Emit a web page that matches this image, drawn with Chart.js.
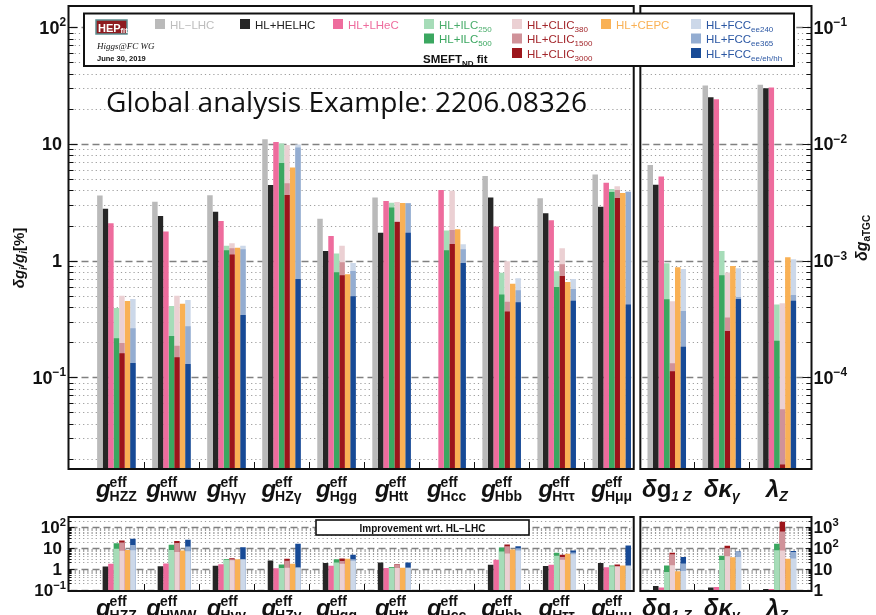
<!DOCTYPE html>
<html>
<head>
<meta charset="utf-8">
<script src="https://cdn.jsdelivr.net/npm/chart.js@4.4.1/dist/chart.umd.min.js"></script>
<style>
  html, body { margin: 0; padding: 0; background: #fff; }
  #wrap { position: relative; width: 876px; height: 615px; overflow: hidden; background: #fff; }
  #wrap canvas { position: absolute; left: 0; top: 0; }
</style>
</head>
<body>
<div id="wrap">
  <canvas id="main" width="876" height="615"></canvas>
  <canvas id="ratio" width="876" height="615"></canvas>
</div>
<script>
// ---------------------------------------------------------------------------
// Categories: Higgs effective couplings (δg/g in %) and anomalous TGCs (absolute)
// ---------------------------------------------------------------------------
const HIGGS_SUBS = ['HZZ', 'HWW', 'Hγγ', 'HZγ', 'Hgg', 'Htt', 'Hcc', 'Hbb', 'Hττ', 'Hμμ'];
const TGC_MAIN = ['δg', 'δκ', 'λ'];
const TGC_SUBS = ['1 Z', 'γ', 'Z'];

// Each series: 10 Higgs couplings [%] followed by 3 aTGC values (δg1Z, δκγ, λZ)
const HL_LHC    = [3.61, 3.20, 3.63, 10.96, 2.29, 3.47, null, 5.32, 3.42, 5.46, 0.0066,   0.0316,   0.0321];
const HL_HELHC  = [2.79, 2.41, 2.63, 4.45,  1.21, 1.73, null, 3.47, 2.55, 2.90, 0.00446,  0.0251,   0.0300];
const HL_LHEC   = [2.09, 1.78, 2.19, 10.4,  1.63, 3.25, 4.03, 1.96, 2.22, 4.66, 0.00525,  0.0241,   0.0304];
const HL_ILC250 = [0.393, 0.409, 1.34, 10.1, 1.15, 3.14, 1.81, 0.789, 0.811, 4.11, 0.000949, 0.00121, 0.000422];
const HL_ILC500 = [0.216, 0.226, 1.23, 6.87, 0.794, 2.85, 1.23, 0.514, 0.594, 3.88, 0.000466, 0.000749, 0.000206];
const HL_CLIC380  = [0.501, 0.501, 1.41, 9.8, 1.34, 3.18, 3.98, 0.99, 1.28, 4.34, 0.000448, 0.00079, 0.000431];
const HL_CLIC1500 = [0.197, 0.187, 1.28, 4.6, 0.97, 2.16, 1.83, 0.445, 0.93, 4.03, 0.000132, 0.000325, 0.0000532];
const HL_CLIC3000 = [0.161, 0.149, 1.13, 3.65, 0.748, 2.14, 1.39, 0.366, 0.739, 3.44, 0.000113, 0.000249, 0.0000179];
const HL_CEPC   = [0.451, 0.428, 1.29, 6.27, 0.763, 3.12, 1.86, 0.635, 0.656, 3.80, 0.000877, 0.0009, 0.00107];
const HL_FCC240 = [0.469, 0.460, 1.34, 9.9, 0.955, 3.12, 1.38, 0.706, 0.697, 3.93, 0.000849, 0.00086, 0.00103];
const HL_FCC365 = [0.263, 0.274, 1.25, 9.3, 0.815, 3.10, 1.25, 0.557, 0.572, 3.88, 0.00037, 0.000489, 0.000508];
const HL_FCCALL = [0.133, 0.130, 0.342, 0.697, 0.495, 1.73, 0.955, 0.44, 0.454, 0.422, 0.000183, 0.000469, 0.000454];

// Axis tick labels: [base, exponent]
const MAIN_LEFT_TICKS  = [100, 10, 1, 0.1];
const MAIN_LEFT_TEXT   = [['10', '2'], ['10', ''], ['1', ''], ['10', '−1']];
const MAIN_RIGHT_TICKS = [0.1, 0.01, 0.001, 0.0001];
const MAIN_RIGHT_TEXT  = [['10', '−1'], ['10', '−2'], ['10', '−3'], ['10', '−4']];
const RATIO_LEFT_TICKS  = [100, 10, 1, 0.1];
const RATIO_LEFT_TEXT   = [['10', '2'], ['10', ''], ['1', ''], ['10', '−1']];
const RATIO_RIGHT_TICKS = [1000, 100, 10, 1];
const RATIO_RIGHT_TEXT  = [['10', '3'], ['10', '2'], ['10', ''], ['1', '']];

// ---------------------------------------------------------------------------
// Series styling
// ---------------------------------------------------------------------------
const SERIES = [
  { name: 'HL−LHC',  sub: '',         data: HL_LHC,      color: '#bababa', text: '#bdbdbd', slot: 'a', col: 0, row: 0 },
  { name: 'HL+HELHC', sub: '',        data: HL_HELHC,    color: '#262626', text: '#222222', slot: 'b', col: 1, row: 0 },
  { name: 'HL+LHeC', sub: '',         data: HL_LHEC,     color: '#ee6c9d', text: '#ee6c9d', slot: 'c', col: 2, row: 0 },
  { name: 'HL+ILC',  sub: '250',      data: HL_ILC250,   color: '#a6dcb8', text: '#4aad6b', slot: 'd', col: 3, row: 0 },
  { name: 'HL+ILC',  sub: '500',      data: HL_ILC500,   color: '#3ba760', text: '#3ba760', slot: 'd', col: 3, row: 1 },
  { name: 'HL+CLIC', sub: '380',      data: HL_CLIC380,  color: '#ebd0d3', text: '#a3262b', slot: 'e', col: 4, row: 0 },
  { name: 'HL+CLIC', sub: '1500',     data: HL_CLIC1500, color: '#d09299', text: '#a3262b', slot: 'e', col: 4, row: 1 },
  { name: 'HL+CLIC', sub: '3000',     data: HL_CLIC3000, color: '#9c151b', text: '#a3262b', slot: 'e', col: 4, row: 2 },
  { name: 'HL+CEPC', sub: '',         data: HL_CEPC,     color: '#f9b155', text: '#f9b155', slot: 'f', col: 5, row: 0 },
  { name: 'HL+FCC',  sub: 'ee240',    data: HL_FCC240,   color: '#ccd8e9', text: '#2b57a3', slot: 'g', col: 6, row: 0 },
  { name: 'HL+FCC',  sub: 'ee365',    data: HL_FCC365,   color: '#94add1', text: '#2b57a3', slot: 'g', col: 6, row: 1 },
  { name: 'HL+FCC',  sub: 'ee/eh/hh', data: HL_FCCALL,   color: '#174a96', text: '#2b57a3', slot: 'g', col: 6, row: 2 }
];
// draw order inside each slot: the first listed ends up on top
const MAIN_ORDER  = [0, 1, 2, 4, 3, 7, 6, 5, 8, 11, 10, 9];
const RATIO_ORDER = [0, 1, 2, 3, 4, 5, 6, 7, 8, 9, 10, 11];

// ---------------------------------------------------------------------------
// Layout constants
// ---------------------------------------------------------------------------
const N_HIGGS = HIGGS_SUBS.length;
const X_MIN = -0.87, X_MAX = 12.63;
const PANEL_SPLIT = [9.40, 9.52];
const GROUP_EDGES = [-0.5, 0.5, 1.5, 2.5, 3.5, 4.5, 5.5, 6.5, 7.5, 8.5, 10.5, 11.5];
const EDGE_MARKS = [0.5, 1.5, 2.5, 3.5, 4.5, 5.5, 6.5, 7.5, 8.5, 10.5, 11.5];
const MAIN_Y = [0.0164, 152];
const RATIO_Y = [0.085, 304];
const SANS = '"Liberation Sans", Arial, Helvetica, sans-serif';
const fnt = (style, size, fam) => `${style} ${size}px ${fam || SANS}`;

Chart.defaults.devicePixelRatio = 1;

// ---------------------------------------------------------------------------
// Dataset builders
// ---------------------------------------------------------------------------
function points(values, from, to, ref) {
  const out = [];
  for (let i = from; i < to; i++) {
    const v = values[i];
    if (v == null) continue;
    if (ref) {
      if (ref[i] == null) continue;
      out.push({ x: i, y: ref[i] / v });
    } else {
      out.push({ x: i, y: v });
    }
  }
  return out;
}

function buildDatasets(order, ratio) {
  const sets = [];
  const panels = [[0, N_HIGGS, 'y'], [N_HIGGS, N_HIGGS + TGC_MAIN.length, 'y2']];
  panels.forEach(([from, to, axis]) => {
    order.forEach(idx => {
      const s = SERIES[idx];
      let data;
      if (ratio) data = idx === 0 ? [] : points(s.data, from, to, HL_LHC);
      else data = points(s.data, from, to, null);
      sets.push({
        label: s.name + s.sub,
        data,
        yAxisID: axis,
        stack: s.slot,
        backgroundColor: s.color,
        borderWidth: 0,
        barPercentage: 1.0,
        categoryPercentage: 0.7
      });
    });
  });
  return sets;
}

// ---------------------------------------------------------------------------
// Drawing helpers
// ---------------------------------------------------------------------------
function runs(ctx, list, x, y, align) {
  let total = 0;
  const widths = list.map(r => { ctx.font = r[1]; const w = ctx.measureText(r[0]).width; total += w; return w; });
  let cx = align === 'right' ? x - total : align === 'center' ? x - total / 2 : x;
  list.forEach((r, i) => {
    ctx.font = r[1];
    if (r[3]) ctx.fillStyle = r[3];
    ctx.fillText(r[0], cx, y + (r[2] || 0));
    cx += widths[i];
  });
  return total;
}

function panelRanges(chart) {
  const a = chart.chartArea, x = chart.scales.x;
  return [[a.left, x.getPixelForValue(PANEL_SPLIT[0])], [x.getPixelForValue(PANEL_SPLIT[1]), a.right]];
}

function logValues(scale) {
  const vals = [];
  const lo = Math.floor(Math.log10(scale.min)), hi = Math.ceil(Math.log10(scale.max));
  for (let d = lo; d <= hi; d++) {
    for (let m = 1; m <= 9; m++) {
      const v = m * Math.pow(10, d);
      if (v > scale.min && v < scale.max) vals.push({ v, major: m === 1 });
    }
  }
  return vals;
}

function drawGrid(chart) {
  const { ctx } = chart;
  const y = chart.scales.y;
  const panels = panelRanges(chart);
  ctx.save();
  logValues(y).forEach(({ v, major }) => {
    const py = Math.round(y.getPixelForValue(v)) + 0.5;
    ctx.beginPath();
    if (major) { ctx.setLineDash([7, 4]); ctx.strokeStyle = '#808080'; ctx.lineWidth = 1.4; }
    else { ctx.setLineDash([1.2, 3]); ctx.strokeStyle = '#9c9c9c'; ctx.lineWidth = 1; }
    panels.forEach(([l, r]) => { ctx.moveTo(l + 2, py); ctx.lineTo(r - 2, py); });
    ctx.stroke();
  });
  ctx.restore();
}

function drawFrames(chart, majorLen, minorLen) {
  const { ctx, chartArea: a } = chart;
  const x = chart.scales.x, y = chart.scales.y;
  const panels = panelRanges(chart);
  ctx.save();
  ctx.setLineDash([]);
  ctx.strokeStyle = '#111';
  ctx.lineWidth = 1;
  // axis tick marks on the outer left and right frames
  ctx.beginPath();
  logValues(y).forEach(({ v, major }) => {
    const py = Math.round(y.getPixelForValue(v)) + 0.5;
    const len = major ? majorLen : minorLen;
    ctx.moveTo(a.left, py); ctx.lineTo(a.left + len, py);
    ctx.moveTo(a.right, py); ctx.lineTo(a.right - len, py);
  });
  // category separators on the bottom frame
  EDGE_MARKS.forEach(v => {
    const px = Math.round(x.getPixelForValue(v)) + 0.5;
    ctx.moveTo(px, a.bottom); ctx.lineTo(px, a.bottom - 7);
  });
  ctx.stroke();
  ctx.lineWidth = 2;
  panels.forEach(([l, r]) => ctx.strokeRect(l, a.top, r - l, a.bottom - a.top));
  ctx.restore();
}

function drawAxisLabels(chart, leftVals, leftText, rightVals, rightText, size) {
  const { ctx, chartArea: a } = chart;
  const y = chart.scales.y, y2 = chart.scales.y2;
  ctx.save();
  ctx.fillStyle = '#111';
  ctx.textBaseline = 'alphabetic';
  leftVals.forEach((v, i) => {
    const py = y.getPixelForValue(v);
    const [b, e] = leftText[i];
    const list = [[b, fnt('bold', size)]];
    if (e) list.push([e, fnt('bold', size * 0.66), -size * 0.42]);
    runs(ctx, list, e ? a.left - 2.5 : a.left - 6.5, py + size * 0.36, 'right');
  });
  rightVals.forEach((v, i) => {
    const py = y2.getPixelForValue(v);
    const [b, e] = rightText[i];
    const list = [[b, fnt('bold', size)]];
    if (e) list.push([e, fnt('bold', size * 0.66), -size * 0.42]);
    runs(ctx, list, a.right + 2, py + size * 0.36, 'left');
  });
  ctx.restore();
}

function drawCategoryLabels(chart, baseY) {
  const { ctx } = chart;
  const x = chart.scales.x;
  const mainFont = fnt('italic bold', 24), smallFont = fnt('bold', 14);
  ctx.save();
  ctx.fillStyle = '#111';
  HIGGS_SUBS.forEach((sub, i) => {
    const cx = x.getPixelForValue(i);
    ctx.font = mainFont; const wm = ctx.measureText('g').width;
    ctx.font = smallFont;
    const ws = ctx.measureText('eff').width, wb = ctx.measureText(sub).width;
    const total = wm + Math.max(ws, wb) - 1;
    const x0 = cx - total / 2;
    ctx.font = mainFont; ctx.fillText('g', x0, baseY);
    ctx.font = smallFont;
    ctx.fillText('eff', x0 + wm - 1, baseY - 10);
    ctx.fillText(sub, x0 + wm - 1, baseY + 4);
  });
  TGC_MAIN.forEach((main, j) => {
    const cx = x.getPixelForValue(N_HIGGS + j);
    const head = main.charAt(0), tail = main.slice(1);
    const list = [[head, mainFont]];
    if (tail === 'g') list.push([tail, fnt('bold', 24)]);
    else if (tail) list.push([tail, mainFont]);
    list.push([TGC_SUBS[j], fnt('italic bold', 14), 4]);
    runs(ctx, list, cx, baseY, 'center');
  });
  ctx.restore();
}

function drawLegend(ctx) {
  const box = { x: 84, y: 13.5, w: 710, h: 52.5 };
  const colX = [155, 240, 333, 424, 512, 601, 691];
  const rowY = [19, 33.5, 48];
  ctx.save();
  ctx.fillStyle = '#fff';
  ctx.fillRect(box.x, box.y, box.w, box.h);
  ctx.lineWidth = 2; ctx.strokeStyle = '#111';
  ctx.strokeRect(box.x, box.y, box.w, box.h);

  // HEPfit badge
  ctx.fillStyle = '#8e1c20';
  ctx.fillRect(96, 20, 31, 14);
  ctx.lineWidth = 1.5; ctx.strokeStyle = '#5c8e90';
  ctx.strokeRect(96, 20, 31, 14);
  ctx.fillStyle = '#fff';
  runs(ctx, [['HEP', fnt('bold', 11)], ['fit', fnt('bold', 7.5), 1]], 98, 31.5, 'left');
  ctx.fillStyle = '#111';
  runs(ctx, [['Higgs@FC WG', fnt('italic', 9, '"Liberation Serif", "DejaVu Serif", serif')]], 97, 49, 'left');
  runs(ctx, [['June 30, 2019', fnt('bold', 7.5)]], 97, 61, 'left');
  runs(ctx, [['SMEFT', fnt('bold', 11.5)], ['ND', fnt('bold', 8), 3], [' fit', fnt('bold', 11.5)]], 423, 62.5, 'left');

  SERIES.forEach(s => {
    const sx = colX[s.col], sy = rowY[s.row];
    ctx.fillStyle = s.color;
    ctx.fillRect(sx, sy, 10, 10);
    const list = [[s.name, fnt('', 11.5), 0, s.text]];
    if (s.sub) list.push([s.sub, fnt('', 8), 3, s.text]);
    runs(ctx, list, sx + 15, sy + 9.5, 'left');
  });
  ctx.restore();
}

function drawTitles(ctx) {
  ctx.save();
  // headline
  ctx.fillStyle = '#111';
  ctx.font = fnt('', 28, '"Open Sans", "Noto Sans", sans-serif');
  const txt = 'Global analysis Example: 2206.08326';
  const w = ctx.measureText(txt).width;
  ctx.translate(106, 112);
  ctx.scale(481 / w, 1);
  ctx.fillText(txt, 0, 0);
  ctx.restore();

  // left axis title
  ctx.save();
  ctx.fillStyle = '#111';
  ctx.translate(24, 258);
  ctx.rotate(-Math.PI / 2);
  runs(ctx, [
    ['δg', fnt('italic bold', 15)], ['i', fnt('italic bold', 10), 3],
    ['/g', fnt('italic bold', 15)], ['i', fnt('italic bold', 10), 3],
    ['[%]', fnt('bold', 15)]
  ], 0, 0, 'center');
  ctx.restore();

  // right axis title
  ctx.save();
  ctx.fillStyle = '#111';
  ctx.translate(867, 238);
  ctx.rotate(-Math.PI / 2);
  runs(ctx, [['δg', fnt('italic bold', 16)], ['aTGC', fnt('bold', 10), 3]], 0, 0, 'center');
  ctx.restore();
}

// ---------------------------------------------------------------------------
// Plugins
// ---------------------------------------------------------------------------
const mainDecor = {
  id: 'mainDecor',
  beforeDatasetsDraw(chart) { drawGrid(chart); },
  afterDatasetsDraw(chart) {
    drawFrames(chart, 9, 5);
    drawAxisLabels(chart, MAIN_LEFT_TICKS, MAIN_LEFT_TEXT, MAIN_RIGHT_TICKS, MAIN_RIGHT_TEXT, 18);
    drawCategoryLabels(chart, 497);
    drawLegend(chart.ctx);
    drawTitles(chart.ctx);
  }
};

const ratioDecor = {
  id: 'ratioDecor',
  beforeDatasetsDraw(chart) { drawGrid(chart); },
  afterDatasetsDraw(chart) {
    const ctx = chart.ctx;
    drawFrames(chart, 6, 3);
    drawAxisLabels(chart, RATIO_LEFT_TICKS, RATIO_LEFT_TEXT, RATIO_RIGHT_TICKS, RATIO_RIGHT_TEXT, 17);
    drawCategoryLabels(chart, 616);
    ctx.save();
    ctx.fillStyle = '#fff';
    ctx.fillRect(316, 520, 213, 15);
    ctx.lineWidth = 1.6; ctx.strokeStyle = '#111';
    ctx.strokeRect(316, 520, 213, 15);
    ctx.fillStyle = '#111';
    ctx.font = fnt('bold', 10);
    ctx.textAlign = 'center';
    ctx.fillText('Improvement wrt. HL−LHC', 422.5, 531.5);
    ctx.restore();
  }
};

// ---------------------------------------------------------------------------
// Charts
// ---------------------------------------------------------------------------
function makeOptions(padding, yRange, rightFactor) {
  return {
    responsive: false,
    animation: false,
    events: [],
    layout: { padding },
    plugins: { legend: { display: false }, tooltip: { enabled: false } },
    scales: {
      x: {
        type: 'linear', min: X_MIN, max: X_MAX, stacked: true, display: false,
        offset: false, grid: { offset: false }, bounds: 'data',
        afterBuildTicks: s => { s.ticks = GROUP_EDGES.map(v => ({ value: v })); }
      },
      y: { type: 'logarithmic', min: yRange[0], max: yRange[1], stacked: false, display: false },
      y2: { type: 'logarithmic', position: 'right', min: yRange[0] * rightFactor, max: yRange[1] * rightFactor, stacked: false, display: false }
    }
  };
}

new Chart(document.getElementById('main'), {
  type: 'bar',
  data: { datasets: buildDatasets(MAIN_ORDER, false) },
  options: makeOptions({ left: 68.5, right: 64.5, top: 6, bottom: 146 }, MAIN_Y, 1e-3),
  plugins: [mainDecor]
});

new Chart(document.getElementById('ratio'), {
  type: 'bar',
  data: { datasets: buildDatasets(RATIO_ORDER, true) },
  options: makeOptions({ left: 68.5, right: 64.5, top: 517, bottom: 24 }, RATIO_Y, 10),
  plugins: [ratioDecor]
});
</script>
</body>
</html>
